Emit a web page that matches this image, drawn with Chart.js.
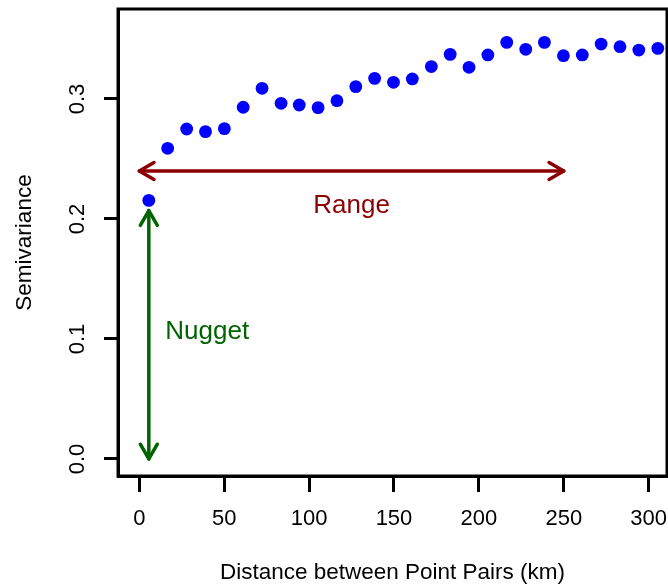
<!DOCTYPE html>
<html>
<head>
<meta charset="utf-8">
<title>Semivariogram</title>
<script src="https://cdn.jsdelivr.net/npm/chart.js@4"></script>
<style>
  body { margin: 0; background: #fff; }
  #wrap { width: 668px; height: 588px; }
</style>
</head>
<body>
<div id="wrap"><canvas id="vario" width="668" height="588"></canvas></div>
<script>
// empirical semivariogram: lag distance (km) and semivariance
const lagDist = [5.6, 16.7, 27.9, 39.0, 50.1, 61.2, 72.3, 83.5, 94.2, 105.3,
                 116.4, 127.5, 138.6, 149.7, 160.8, 172.0, 183.1, 194.2, 205.3, 216.4,
                 227.6, 238.6, 249.8, 260.9, 272.0, 283.1, 294.2, 305.4];
const semivar = [0.2155, 0.2589, 0.2750, 0.2728, 0.2753, 0.2931, 0.3089, 0.2964, 0.2950, 0.2928,
                 0.2986, 0.3103, 0.3172, 0.3139, 0.3167, 0.3270, 0.3372, 0.3264, 0.3367, 0.3472,
                 0.3414, 0.3472, 0.3361, 0.3367, 0.3458, 0.3436, 0.3408, 0.3422];

const xTicks = [0, 50, 100, 150, 200, 250, 300];
const yTicks = [0, 0.1, 0.2, 0.3];

// annotation arrows: [x from, x to, y] and [x, y from, y to]
const rangeArrow = [0, 250, 0.24];
const nuggetArrow = [5.6, 0, 0.207];
// annotation labels: [x, baseline y]
const rangeLabel = [125, 0.205];
const nuggetLabel = [40, 0.1];

Chart.defaults.font.family = "'Liberation Sans', Arial, Helvetica, sans-serif";
Chart.defaults.color = '#000';

function arrow(ctx, x1, y1, x2, y2, both) {
    const len = 17, ang = Math.PI / 6;
    const head = function (tx, ty, fx, fy) {
        const a = Math.atan2(ty - fy, tx - fx);
        ctx.beginPath();
        ctx.moveTo(tx - len * Math.cos(a - ang), ty - len * Math.sin(a - ang));
        ctx.lineTo(tx, ty);
        ctx.lineTo(tx - len * Math.cos(a + ang), ty - len * Math.sin(a + ang));
        ctx.stroke();
    };
    ctx.beginPath();
    ctx.moveTo(x1, y1);
    ctx.lineTo(x2, y2);
    ctx.stroke();
    head(x2, y2, x1, y1);
    if (both) head(x1, y1, x2, y2);
}

// keep tick labels from pushing the plot region inwards
function noPad(s) {
    s.paddingTop = 0;
    s.paddingBottom = 0;
    s.paddingLeft = 0;
    s.paddingRight = 0;
}

const extras = {
    id: 'extras',
    afterDatasetsDraw(chart) {
        const ctx = chart.ctx;
        const xs = chart.scales.x, ys = chart.scales.y;
        ctx.save();
        ctx.lineWidth = 3.5;
        ctx.lineCap = 'round';
        ctx.lineJoin = 'round';

        ctx.strokeStyle = '#8b0000';
        arrow(ctx, xs.getPixelForValue(rangeArrow[0]), ys.getPixelForValue(rangeArrow[2]),
                   xs.getPixelForValue(rangeArrow[1]), ys.getPixelForValue(rangeArrow[2]), true);
        ctx.strokeStyle = '#006400';
        arrow(ctx, xs.getPixelForValue(nuggetArrow[0]), ys.getPixelForValue(nuggetArrow[1]),
                   xs.getPixelForValue(nuggetArrow[0]), ys.getPixelForValue(nuggetArrow[2]), true);

        ctx.font = "26px 'Liberation Sans', Arial, sans-serif";
        ctx.textAlign = 'center';
        ctx.textBaseline = 'alphabetic';
        ctx.fillStyle = '#8b0000';
        ctx.fillText('Range', xs.getPixelForValue(rangeLabel[0]), ys.getPixelForValue(rangeLabel[1]));
        ctx.fillStyle = '#006400';
        ctx.fillText('Nugget', xs.getPixelForValue(nuggetLabel[0]), ys.getPixelForValue(nuggetLabel[1]));
        ctx.restore();
    },
    afterDraw(chart) {
        // box around the plot region
        const a = chart.chartArea, ctx = chart.ctx;
        ctx.save();
        ctx.strokeStyle = '#000';
        ctx.lineWidth = 3;
        ctx.strokeRect(a.left, a.top, a.right - a.left, a.bottom - a.top);
        ctx.restore();
    }
};

new Chart(document.getElementById('vario'), {
    type: 'scatter',
    data: {
        datasets: [{
            data: lagDist.map((d, i) => ({ x: d, y: semivar[i] })),
            backgroundColor: '#0000ff',
            borderWidth: 0,
            pointRadius: 6.4,
            pointHoverRadius: 6.4
        }]
    },
    options: {
        responsive: false,
        animation: false,
        layout: { autoPadding: false, padding: { top: 9, right: 1, left: 0, bottom: 0 } },
        plugins: { legend: { display: false }, tooltip: { enabled: false } },
        scales: {
            x: {
                type: 'linear',
                min: -12.55,
                max: 310.8,
                afterBuildTicks: s => { s.ticks = xTicks.map(v => ({ value: v })); },
                afterFit: s => { s.height = 112; noPad(s); },
                grid: { drawOnChartArea: false, tickLength: 16, tickColor: '#000', tickWidth: 3 },
                border: { color: '#000', width: 3 },
                ticks: { font: { size: 22 }, padding: 14, maxRotation: 0, callback: v => String(v) },
                title: {
                    display: true,
                    text: 'Distance between Point Pairs (km)',
                    font: { size: 22.5 },
                    padding: { top: 0, bottom: 2 }
                }
            },
            y: {
                type: 'linear',
                min: -0.0142,
                max: 0.375,
                afterBuildTicks: s => { s.ticks = yTicks.map(v => ({ value: v })); },
                afterFit: s => { s.width = 118; noPad(s); },
                grid: { drawOnChartArea: false, tickLength: 14, tickColor: '#000', tickWidth: 3 },
                border: { color: '#000', width: 3 },
                ticks: {
                    font: { size: 22 },
                    padding: 11,
                    minRotation: 90,
                    maxRotation: 90,
                    crossAlign: 'center',
                    callback: v => v.toFixed(1)
                },
                title: {
                    display: true,
                    text: 'Semivariance',
                    font: { size: 22.5 },
                    padding: { top: 11, bottom: 0 }
                }
            }
        }
    },
    plugins: [extras]
});
</script>
</body>
</html>
